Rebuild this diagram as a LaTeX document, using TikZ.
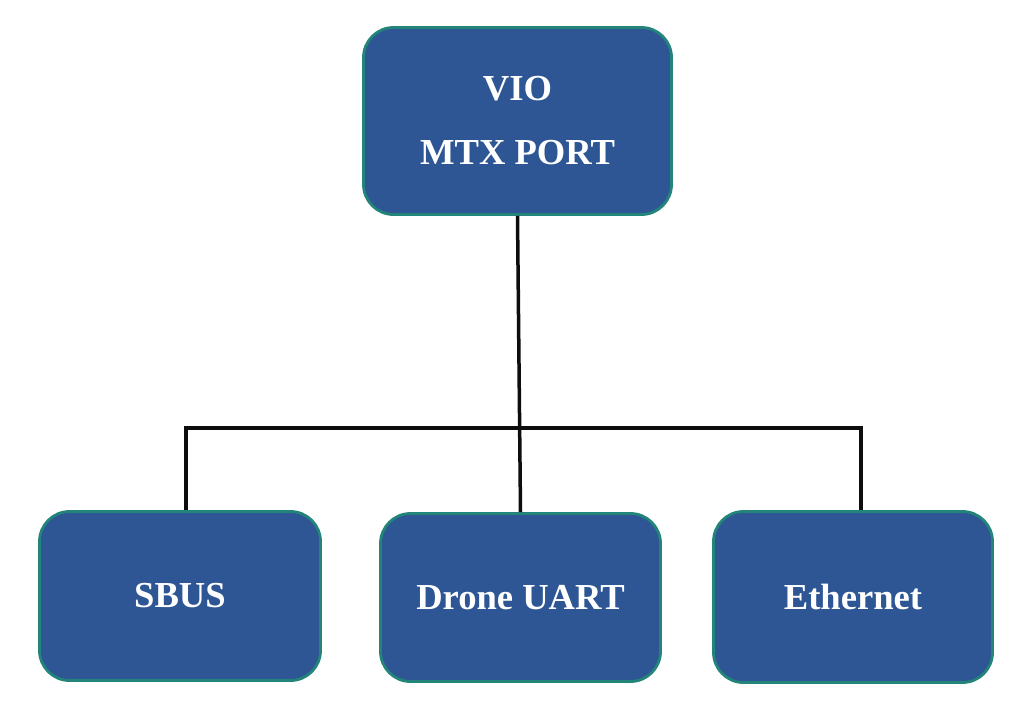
\documentclass[tikz,border=0pt]{standalone}
\usepackage{fontspec}
\setmainfont{Liberation Serif}
\definecolor{boxfill}{HTML}{2E5594}
\definecolor{boxedge}{HTML}{23847A}
\begin{document}
\begin{tikzpicture}[x=1pt,y=-1pt,
  blk/.style={draw=boxedge, line width=2.8pt, fill=boxfill, rounded corners=30pt,
    text=white, font=\bfseries\fontsize{36.6}{64}\selectfont, align=center,
    inner sep=0pt},
  wire/.style={draw=black!95, line width=3.5pt}]
\useasboundingbox (0,0) rectangle (1034,723);
\node[blk, minimum width=308pt, minimum height=187pt] (top) at (517.5,121) {VIO\\MTX PORT};
\node[blk, minimum width=281pt, minimum height=169pt] (sbus) at (180,596) {SBUS};
\node[blk, minimum width=280pt, minimum height=168pt] (drone) at (520.5,597.5) {Drone UART};
\node[blk, minimum width=279pt, minimum height=171pt] (eth) at (853,597) {Ethernet};
\coordinate (hl) at (186,428);
\coordinate (hr) at (861,428);
\draw[wire] (top.south) -- (drone.north);
\draw[wire] ([xshift=6pt]sbus.north) -- (hl) -- (hr) -- ([xshift=8pt]eth.north);
\end{tikzpicture}
\end{document}
